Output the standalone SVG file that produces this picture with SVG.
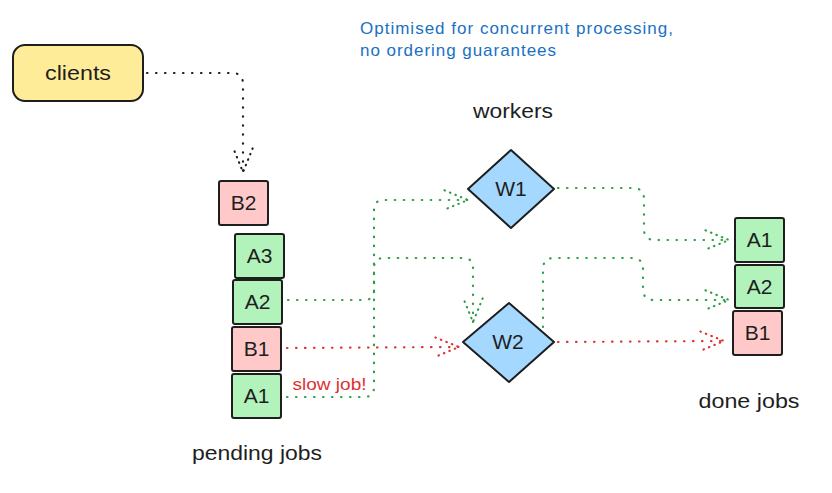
<svg xmlns="http://www.w3.org/2000/svg" width="832" height="493" viewBox="0 0 832 493">
<style>
  .lbl { font-family: "Liberation Sans", "DejaVu Sans", sans-serif; fill: #1e1e1e; text-anchor: middle; }
  .node { stroke: #1e1e1e; stroke-width: 2; }
  .pink { fill: #ffc9c9; }
  .green { fill: #b2f2bb; }
  .blue { fill: #a5d8ff; }
  .yellow { fill: #ffec99; }
  .conn { fill: none; stroke-width: 2.2; stroke-linecap: round; stroke-dasharray: 0.5 8.5; }
  .k { stroke: #1e1e1e; }
  .g { stroke: #2f9e44; }
  .r { stroke: #e03131; }
</style>
<defs>
  <marker id="ah-k" markerUnits="userSpaceOnUse" markerWidth="30" markerHeight="30" refX="0" refY="0" viewBox="-25 -12 28 24" orient="auto" overflow="visible">
    <path d="M-22,-9 L0,0 L-22,9" fill="none" stroke="#1e1e1e" stroke-width="2" stroke-linecap="round" stroke-dasharray="0.5 5"/>
  </marker>
  <marker id="ah-g" markerUnits="userSpaceOnUse" markerWidth="30" markerHeight="30" refX="0" refY="0" viewBox="-25 -12 28 24" orient="auto" overflow="visible">
    <path d="M-22,-9 L0,0 L-22,9" fill="none" stroke="#2f9e44" stroke-width="2" stroke-linecap="round" stroke-dasharray="0.5 5"/>
  </marker>
  <marker id="ah-r" markerUnits="userSpaceOnUse" markerWidth="30" markerHeight="30" refX="0" refY="0" viewBox="-25 -12 28 24" orient="auto" overflow="visible">
    <path d="M-22,-9 L0,0 L-22,9" fill="none" stroke="#e03131" stroke-width="2" stroke-linecap="round" stroke-dasharray="0.5 5"/>
  </marker>
</defs>

<g id="connectors">
  <path class="conn k" d="M147,73 L232,73 Q243,73 243,84 L243,172" marker-end="url(#ah-k)"/>
  <path class="conn g" d="M287,397 L364,397 Q374,397 374,387 L374,210 Q374,200 384,200 L468,200" marker-end="url(#ah-g)"/>
  <path class="conn g" d="M288,300 L364,300 Q374,300 374,290 L374,268 Q374,258 384,258 L463,258 Q473,258 473,268 L473,322" marker-end="url(#ah-g)"/>
  <path class="conn r" d="M287,348 L459,347" marker-end="url(#ah-r)"/>
  <path class="conn g" d="M558,188 L633,188 Q644,188 644,199 L644,229 Q644,240 655,240 L729,240" marker-end="url(#ah-g)"/>
  <path class="conn g" d="M543,327 L543,269 Q543,258 554,258 L632,258 Q643,258 643,269 L643,289 Q643,300 654,300 L729,300" marker-end="url(#ah-g)"/>
  <path class="conn r" d="M558,342 L724,341" marker-end="url(#ah-r)"/>
</g>

<g id="clients">
  <rect class="node yellow" x="13" y="45" width="130" height="56" rx="12" stroke-width="2.5"/>
  <text class="lbl" x="78" y="80" font-size="21" textLength="66" lengthAdjust="spacingAndGlyphs">clients</text>
</g>

<g id="pending-B2">
  <rect class="node pink" x="219" y="181" width="49" height="44" rx="2"/>
  <text class="lbl" x="243.5" y="210" font-size="21">B2</text>
</g>
<g id="pending-A3">
  <rect class="node green" x="235" y="234" width="49" height="44" rx="2"/>
  <text class="lbl" x="259.5" y="263" font-size="21">A3</text>
</g>
<g id="pending-A2">
  <rect class="node green" x="233" y="280" width="49" height="44" rx="2"/>
  <text class="lbl" x="257.5" y="309" font-size="21">A2</text>
</g>
<g id="pending-B1">
  <rect class="node pink" x="232" y="327" width="49" height="44" rx="2"/>
  <text class="lbl" x="256.5" y="356" font-size="21">B1</text>
</g>
<g id="pending-A1">
  <rect class="node green" x="232" y="374" width="49" height="44" rx="2"/>
  <text class="lbl" x="256.5" y="403" font-size="21">A1</text>
</g>

<g id="W1">
  <path class="node blue" d="M468,189 L511,150 L554,189 L511,228 Z" stroke-linejoin="round"/>
  <text class="lbl" x="511" y="196" font-size="21">W1</text>
</g>
<g id="W2">
  <path class="node blue" d="M463,342 L509,303 L554,342 L509,382 Z" stroke-linejoin="round"/>
  <text class="lbl" x="508" y="349" font-size="21">W2</text>
</g>

<g id="done-A1">
  <rect class="node green" x="735" y="218" width="49" height="44" rx="2"/>
  <text class="lbl" x="759.5" y="247" font-size="21">A1</text>
</g>
<g id="done-A2">
  <rect class="node green" x="735" y="265" width="49" height="43" rx="2"/>
  <text class="lbl" x="759.5" y="294" font-size="21">A2</text>
</g>
<g id="done-B1">
  <rect class="node pink" x="733" y="311" width="49" height="44" rx="2"/>
  <text class="lbl" x="757.5" y="340" font-size="21">B1</text>
</g>

<g id="labels">
  <text x="360" y="34" font-family="Liberation Sans, DejaVu Sans, sans-serif" font-size="17" fill="#1971c2" textLength="313" lengthAdjust="spacing">Optimised for concurrent processing,</text>
  <text x="360" y="56" font-family="Liberation Sans, DejaVu Sans, sans-serif" font-size="17" fill="#1971c2" textLength="196" lengthAdjust="spacing">no ordering guarantees</text>
  <text class="lbl" x="513" y="118" font-size="21" textLength="80" lengthAdjust="spacingAndGlyphs">workers</text>
  <text class="lbl" x="257" y="460" font-size="21" textLength="130" lengthAdjust="spacingAndGlyphs">pending jobs</text>
  <text class="lbl" x="749" y="408" font-size="21" textLength="101" lengthAdjust="spacingAndGlyphs">done jobs</text>
  <text x="329.5" y="390" font-family="Liberation Sans, DejaVu Sans, sans-serif" font-size="17" fill="#e03131" text-anchor="middle" textLength="74" lengthAdjust="spacingAndGlyphs">slow job!</text>
</g>
</svg>
